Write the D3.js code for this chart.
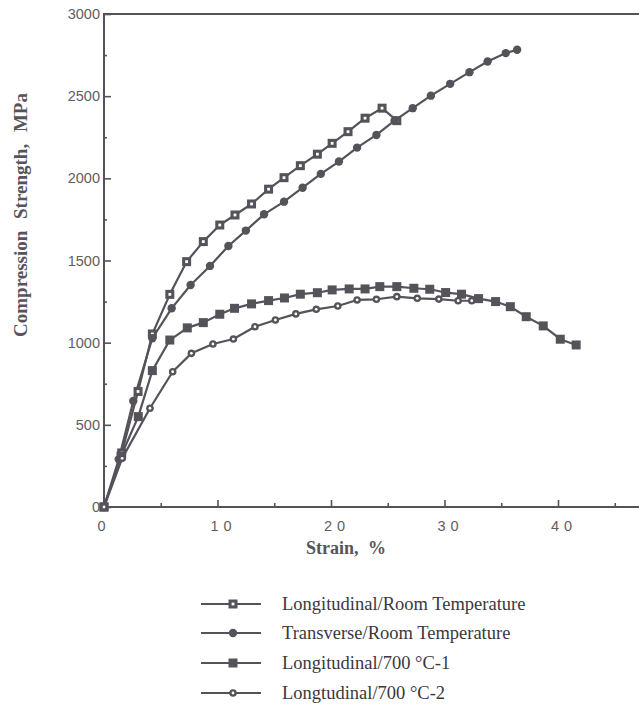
<!DOCTYPE html>
<html><head><meta charset="utf-8">
<script src="https://cdn.jsdelivr.net/npm/d3@7"></script>
<style>
html,body{margin:0;padding:0;background:#fff;overflow:hidden;}
svg{display:block;}
</style></head>
<body>
<svg id="c" width="639" height="707"></svg>
<script>
const xTicks = [0, 10, 20, 30, 40];
const yTicks = [0, 500, 1000, 1500, 2000, 2500, 3000];
const seriesNames = ["Longitudinal/Room Temperature", "Transverse/Room Temperature", "Longitudinal/700 \u00B0C-1", "Longtudinal/700 \u00B0C-2"];

const longRT = [[0,0],[1.56,329],[3.0,703],[4.26,1053],[5.8,1294],[7.28,1493],[8.75,1615],[10.2,1716],[11.54,1777],[13.0,1844],[14.5,1934],[15.86,2004],[17.3,2077],[18.8,2147],[20.1,2213],[21.5,2284],[23.0,2366],[24.5,2427],[25.8,2351]];
const transRT = [[0,0],[1.3,290],[2.58,645],[4.26,1027],[5.96,1209],[7.63,1351],[9.34,1467],[10.96,1588],[12.5,1682],[14.1,1781],[15.86,1858],[17.5,1943],[19.1,2027],[20.7,2102],[22.3,2187],[24.0,2264],[25.6,2351],[27.2,2427],[28.8,2503],[30.5,2575],[32.2,2646],[33.8,2711],[35.4,2762],[36.4,2782]];
const long700a = [[0,0],[1.5,310],[3.02,550],[4.26,830],[5.8,1016],[7.34,1090],[8.75,1122],[10.2,1173],[11.5,1209],[13.0,1236],[14.5,1256],[15.9,1272],[17.3,1295],[18.8,1304],[20.1,1321],[21.6,1327],[23.0,1327],[24.3,1341],[25.8,1341],[27.3,1331],[28.7,1325],[30.1,1305],[31.5,1295],[33.0,1268],[34.5,1250],[35.8,1219],[37.2,1158],[38.7,1102],[40.2,1021],[41.6,986]];
const long700b = [[0,0],[1.6,296],[4.05,601],[6.05,823],[7.7,935],[9.6,992],[11.4,1022],[13.3,1097],[15.1,1138],[16.9,1175],[18.7,1203],[20.6,1223],[22.3,1260],[24.0,1264],[25.8,1280],[27.6,1270],[29.5,1265],[31.2,1255],[32.4,1255]];

const series = [
  {name: seriesNames[0], data: longRT, marker: "hsq"},
  {name: seriesNames[1], data: transRT, marker: "dot"},
  {name: seriesNames[2], data: long700a, marker: "fsq"},
  {name: seriesNames[3], data: long700b, marker: "hdot"}
];

const col = "#555259";
const svg = d3.select("#c");
const x = d3.scaleLinear().domain([0, 50]).range([104, 104 + 567.5]);
const y = d3.scaleLinear().domain([0, 3000]).range([507, 14]);

// frame: top border
svg.append("line").attr("x1", 104).attr("x2", 639).attr("y1", 14).attr("y2", 14)
  .attr("stroke", col).attr("stroke-width", 2);

// y axis
const yAx = svg.append("g").attr("transform", "translate(104,0)")
  .call(d3.axisRight(y).tickValues(d3.range(0, 3001, 250)).tickSize(0).tickFormat(""));
yAx.select(".domain").remove();
yAx.selectAll(".tick line").attr("x2", d => d % 500 === 0 ? 7 : 3).attr("stroke", col).attr("stroke-width", 1.6);
svg.append("line").attr("x1", 104).attr("x2", 104).attr("y1", 13).attr("y2", 508).attr("stroke", col).attr("stroke-width", 2);
svg.append("g").selectAll("text").data(yTicks).join("text")
  .attr("x", 100).attr("y", d => y(d) + 5).attr("text-anchor", "end")
  .attr("font-family", "Liberation Sans, Arial, sans-serif").attr("font-size", 14.5)
  .attr("fill", "#5e5e62").text(d => d);

// x axis
const xAx = svg.append("g").attr("transform", "translate(0,507)")
  .call(d3.axisTop(x).tickValues(d3.range(0, 50, 5)).tickSize(0).tickFormat(""));
xAx.select(".domain").remove();
xAx.selectAll(".tick line").attr("y2", d => d % 10 === 0 ? -7 : -4).attr("stroke", col).attr("stroke-width", 1.6);
svg.append("line").attr("x1", 103).attr("x2", 639).attr("y1", 507).attr("y2", 507).attr("stroke", col).attr("stroke-width", 2);
svg.append("g").selectAll("text").data(xTicks).join("text")
  .attr("x", d => x(d) + (d === 0 ? 0 : 6)).attr("y", 531).attr("text-anchor", "middle")
  .attr("font-family", "Liberation Sans, Arial, sans-serif").attr("font-size", 14.5)
  .attr("letter-spacing", "5px")
  .attr("fill", "#5e5e62").text(d => d);

// axis titles
svg.append("text").attr("x", 346).attr("y", 554).attr("text-anchor", "middle")
  .attr("font-family", "Liberation Serif, Times New Roman, serif").attr("font-weight", "bold")
  .attr("font-size", 18).attr("fill", "#56545a").attr("word-spacing", "5px").text("Strain, %");
svg.append("text").attr("transform", "translate(27,215) rotate(-90)").attr("text-anchor", "middle")
  .attr("font-family", "Liberation Serif, Times New Roman, serif").attr("font-weight", "bold")
  .attr("font-size", 19).attr("fill", "#56545a").attr("word-spacing", "7px").text("Compression Strength, MPa");

// marker drawing
function drawMarker(g, type) {
  if (type === "hsq") {
    g.append("rect").attr("x", -4.5).attr("y", -4.5).attr("width", 9).attr("height", 9).attr("fill", col);
    g.append("rect").attr("x", -1.4).attr("y", -1.4).attr("width", 2.8).attr("height", 2.8).attr("fill", "#fff");
  } else if (type === "fsq") {
    g.append("rect").attr("x", -4.5).attr("y", -4.5).attr("width", 9).attr("height", 9).attr("fill", col);
  } else if (type === "dot") {
    g.append("circle").attr("r", 4.2).attr("fill", col);
  } else if (type === "hdot") {
    g.append("circle").attr("r", 3.8).attr("fill", col);
    g.append("circle").attr("r", 1.4).attr("fill", "#fff");
  }
}

const line = d3.line().x(d => x(d[0])).y(d => y(d[1]));
const plot = svg.append("g");
series.forEach(s => {
  plot.append("path").datum(s.data).attr("d", line).attr("fill", "none")
    .attr("stroke", col).attr("stroke-width", 2.2).attr("stroke-linejoin", "round");
});
series.forEach(s => {
  plot.append("g").selectAll("g").data(s.data).join("g")
    .attr("transform", d => `translate(${x(d[0])},${y(d[1])})`)
    .each(function() { drawMarker(d3.select(this), s.marker); });
});

// legend
const legY = [604, 633, 663, 693];
const leg = svg.append("g");
series.forEach((s, i) => {
  const g = leg.append("g").attr("transform", `translate(0,${legY[i]})`);
  g.append("line").attr("x1", 201).attr("x2", 261).attr("y1", 0).attr("y2", 0).attr("stroke", col).attr("stroke-width", 2);
  const m = g.append("g").attr("transform", "translate(233,0)");
  drawMarker(m, s.marker);
  g.append("text").attr("x", 282).attr("y", 6).attr("font-family", "Liberation Serif, Times New Roman, serif")
    .attr("font-size", 18.5).attr("fill", "#3a383e").text(s.name);
});
</script>
</body></html>
